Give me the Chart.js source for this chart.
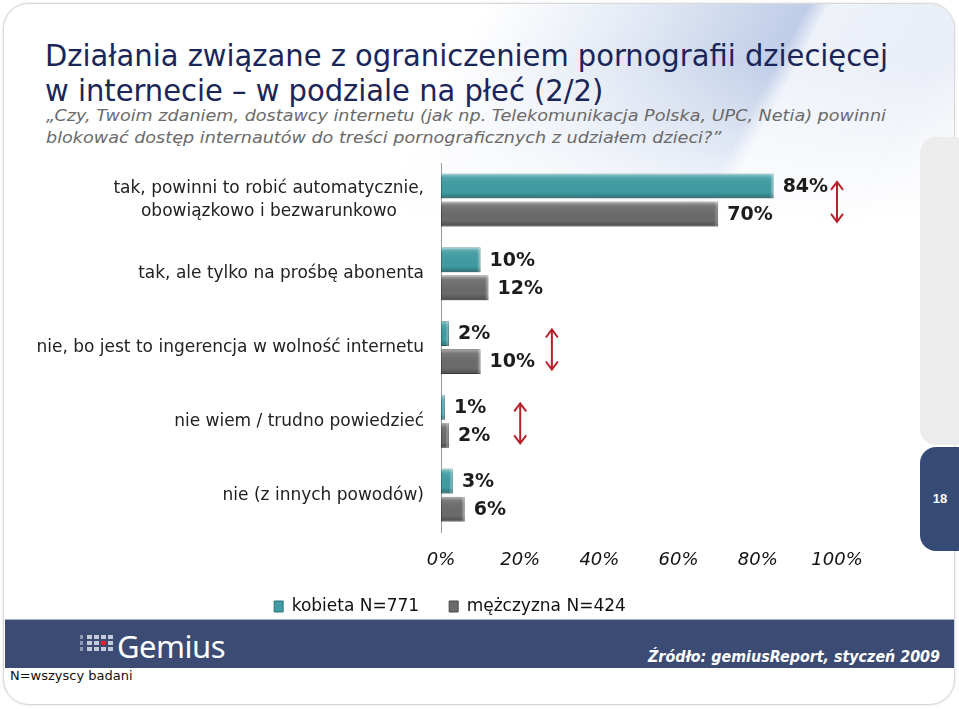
<!DOCTYPE html>
<html>
<head>
<meta charset="utf-8">
<script src="https://cdn.jsdelivr.net/npm/chart.js@4/dist/chart.umd.min.js"></script>
<style>
  html, body { margin: 0; padding: 0; background: #fff; }
  #slide { position: relative; width: 959px; height: 709px; overflow: hidden; font-family: "DejaVu Sans", Verdana, sans-serif; }
  #frame { position: absolute; left: 3px; top: 3px; width: 950px; height: 700px; border: 1px solid #d8d8d8; border-radius: 26px; box-shadow: 0 0 3px #ddd; overflow: hidden; background: #fff; }
  #swoosh { position: absolute; left: 0; top: 0; width: 950px; height: 230px;
    background:
      linear-gradient(to bottom, rgba(255,255,255,0) 25%, #fff 95%),
      linear-gradient(118deg, rgba(255,255,255,0) 45%, rgba(215,224,240,0.7) 60%, rgba(175,192,226,0.8) 75%, rgba(236,240,248,0.9) 77%, rgba(224,230,243,0.7) 90%, rgba(240,243,249,0.6) 100%); }
  .txt { position: absolute; white-space: nowrap; transform-origin: 0 50%; }
  .title { font-family: "DejaVu Sans Condensed", "DejaVu Sans", sans-serif; font-size: 31px; color: #1a2657; }
  .question { font-family: "DejaVu Sans", Verdana, sans-serif; font-style: italic; font-size: 16.5px; color: #6a6a6a; }
  #tabGray { position: absolute; left: 920px; top: 137px; width: 40px; height: 308px; background: #ececec; border-radius: 16px 0 0 16px; }
  #tabNavy { position: absolute; left: 920px; top: 447px; width: 40px; height: 104px; background: #364a76; border-radius: 16px 0 0 16px; color: #fff; font: bold 13px "Liberation Sans", Arial, sans-serif; text-align: center; line-height: 104px; }
  #chartBox { position: absolute; left: 0; top: 150px; width: 900px; height: 475px; }
  #footer { position: absolute; left: 5px; top: 619px; width: 949px; height: 48px; background: #3b4b74; border-top: 1px solid #aab6cc; }
  #logo { position: absolute; left: 75px; top: 15px; }
  #logo i { position: absolute; width: 5px; height: 4px; background: #c5ccd9; }
  #gemius { position: absolute; left: 112px; top: 5px; font: 31px "Noto Sans", "Open Sans", sans-serif; color: #fff; letter-spacing: -0.5px; }
  #source { position: absolute; top: 28px; font: italic bold 15px "DejaVu Sans", Verdana, sans-serif; color: #fff; }
  #note { position: absolute; left: 10px; top: 668px; font: 13px "DejaVu Sans", Verdana, sans-serif; color: #111; }
</style>
</head>
<body>
<div id="slide">
  <div id="frame"><div id="swoosh"></div></div>

  <div class="txt title" id="t1" style="left:45px; top:37px;" data-w="843">Działania związane z ograniczeniem pornografii dziecięcej</div>
  <div class="txt title" id="t2" style="left:45px; top:72px;">w internecie – w podziale na płeć (2/2)</div>
  <div class="txt question" id="q1" style="left:46px; top:106px;" data-w="840">„Czy, Twoim zdaniem, dostawcy internetu (jak np. Telekomunikacja Polska, UPC, Netia) powinni</div>
  <div class="txt question" id="q2" style="left:46px; top:128px;">blokować dostęp internautów do treści pornograficznych z udziałem dzieci?”</div>

  <div id="tabGray"></div>
  <div id="tabNavy">18</div>

  <div id="chartBox"><canvas id="chart" width="900" height="475"></canvas></div>

  <div id="footer">
    <div id="logo"></div>
    <div id="gemius">Gemius</div>
    <div class="txt" id="source" data-w="292">Źródło: gemiusReport, styczeń 2009</div>
  </div>
  <div id="note">N=wszyscy badani</div>
</div>

<script>
// data
const categories = [
  ['tak, powinni to robić automatycznie,', 'obowiązkowo i bezwarunkowo\u00a0\u00a0\u00a0\u00a0\u00a0'],
  'tak, ale tylko na prośbę abonenta',
  'nie, bo jest to ingerencja w wolność internetu',
  'nie wiem / trudno powiedzieć',
  'nie (z innych powodów)'
];
const kobieta = [84, 10, 2, 1, 3];
const mezczyzna = [70, 12, 10, 2, 6];
const seriesNames = ['kobieta N=771', 'mężczyzna N=424'];
const xTicks = [0, 20, 40, 60, 80, 100];
// red double arrows: category index and x value where they stand
const arrowRows = [0, 2, 3];
const arrowAt = [100, 28, 20];

// squeeze the header texts to their width in the slide
document.querySelectorAll('[data-w]').forEach(el => {
  const r = +el.dataset.w / el.getBoundingClientRect().width;
  el.style.transform = 'scaleX(' + r + ')';
  if (el.id === 't1') document.getElementById('t2').style.transform = 'scaleX(' + r + ')';
  if (el.id === 'q1') document.getElementById('q2').style.transform = 'scaleX(' + r + ')';
  if (el.id === 'source') { el.style.left = (940 - 5 - 292) + 'px'; }
});

// little logo grid
(function () {
  const logo = document.getElementById('logo');
  for (let c = 0; c < 5; c++) {
    for (let r = 0; r < 3; r++) {
      const sq = document.createElement('i');
      sq.style.left = (c * 7) + 'px';
      sq.style.top = (r * 6) + 'px';
      if (c === 0) { sq.style.width = '3px'; sq.style.opacity = 0.6; }
      if (c === 3 && r === 1) sq.style.background = '#e0202a';
      logo.appendChild(sq);
    }
  }
})();

// legend spans the whole canvas, not only the padded part
const legendWide = {
  id: 'legendWide',
  afterLayout(chart) {
    const lg = chart.legend;
    if (!lg) return;
    lg.left = 0;
    lg.right = chart.width;
    lg.width = chart.width;
  }
};

const bevel = {
  id: 'bevel',
  afterDatasetDraw(chart, args) {
    const ctx = chart.ctx;
    args.meta.data.forEach(bar => {
      const p = bar.getProps(['x', 'y', 'base', 'height'], true);
      const top = p.y - p.height / 2;
      const g = ctx.createLinearGradient(0, top, 0, top + p.height);
      g.addColorStop(0, 'rgba(255,255,255,0.45)');
      g.addColorStop(0.18, 'rgba(255,255,255,0.08)');
      g.addColorStop(0.75, 'rgba(0,0,0,0)');
      g.addColorStop(1, 'rgba(0,0,0,0.28)');
      ctx.save();
      ctx.fillStyle = g;
      ctx.fillRect(p.base, top, p.x - p.base, p.height);
      ctx.fillStyle = 'rgba(255,255,255,0.18)';
      ctx.fillRect(p.x - 3, top, 3, p.height);
      ctx.restore();
    });
  }
};

const valueLabels = {
  id: 'valueLabels',
  afterDatasetsDraw(chart) {
    const ctx = chart.ctx;
    ctx.save();
    ctx.font = 'bold 19px "DejaVu Sans", Verdana, sans-serif';
    ctx.fillStyle = '#1c1c1c';
    ctx.textBaseline = 'middle';
    chart.data.datasets.forEach((ds, i) => {
      chart.getDatasetMeta(i).data.forEach((bar, j) => {
        ctx.fillText(ds.data[j] + '%', bar.x + 9, bar.y + 1);
      });
    });
    ctx.restore();
  }
};

const arrows = {
  id: 'arrows',
  afterDraw(chart) {
    const ctx = chart.ctx;
    const xs = chart.scales.x, ys = chart.scales.y;
    ctx.save();
    ctx.strokeStyle = '#b8202a';
    ctx.lineWidth = 2;
    arrowRows.forEach((row, k) => {
      const x = xs.getPixelForValue(arrowAt[k]);
      const yc = ys.getPixelForValue(row) + 2;
      const y1 = yc - 20, y2 = yc + 20;
      ctx.beginPath();
      ctx.moveTo(x, y1); ctx.lineTo(x, y2);
      ctx.moveTo(x - 6, y1 + 8); ctx.lineTo(x, y1); ctx.lineTo(x + 6, y1 + 8);
      ctx.moveTo(x - 6, y2 - 8); ctx.lineTo(x, y2); ctx.lineTo(x + 6, y2 - 8);
      ctx.stroke();
    });
    ctx.restore();
  }
};

new Chart(document.getElementById('chart'), {
  type: 'bar',
  data: {
    labels: categories,
    datasets: [
      { label: seriesNames[0], data: kobieta, backgroundColor: '#3f9ca2', borderColor: '#2b7479', borderWidth: 1, borderSkipped: false },
      { label: seriesNames[1], data: mezczyzna, backgroundColor: '#6b6b6b', borderColor: '#4a4a4a', borderWidth: 1, borderSkipped: false }
    ]
  },
  options: {
    indexAxis: 'y',
    responsive: false,
    animation: false,
    devicePixelRatio: 1,
    categoryPercentage: 0.76,
    barPercentage: 0.89,
    layout: { padding: { top: 13, left: 0, right: 63, bottom: 0 } },
    scales: {
      x: {
        min: 0, max: 100,
        afterBuildTicks: s => { s.ticks = xTicks.map(v => ({ value: v })); },
        afterFit: s => { s.height = 36; s.paddingLeft = 0; s.paddingRight = 0; },
        grid: { display: false, drawTicks: false },
        border: { display: false },
        ticks: {
          padding: 18,
          color: '#111',
          font: { family: '"DejaVu Sans", Verdana, sans-serif', size: 18, style: 'italic' },
          callback: v => v + '%'
        }
      },
      y: {
        afterFit: s => { s.width = 441; s.paddingTop = 0; s.paddingBottom = 0; },
        grid: { display: true, drawOnChartArea: false, drawTicks: false },
        border: { display: true, color: '#9a9a9a', width: 1 },
        ticks: {
          padding: 17,
          color: '#222',
          font: { family: '"DejaVu Sans", Verdana, sans-serif', size: 17, lineHeight: 1.36 }
        }
      }
    },
    plugins: {
      tooltip: { enabled: false },
      legend: {
        position: 'bottom',
        labels: {
          boxWidth: 9,
          boxHeight: 11,
          padding: 30,
          color: '#111',
          font: { family: '"DejaVu Sans", Verdana, sans-serif', size: 17 }
        }
      }
    }
  },
  plugins: [legendWide, bevel, valueLabels, arrows]
});
</script>
</body>
</html>
